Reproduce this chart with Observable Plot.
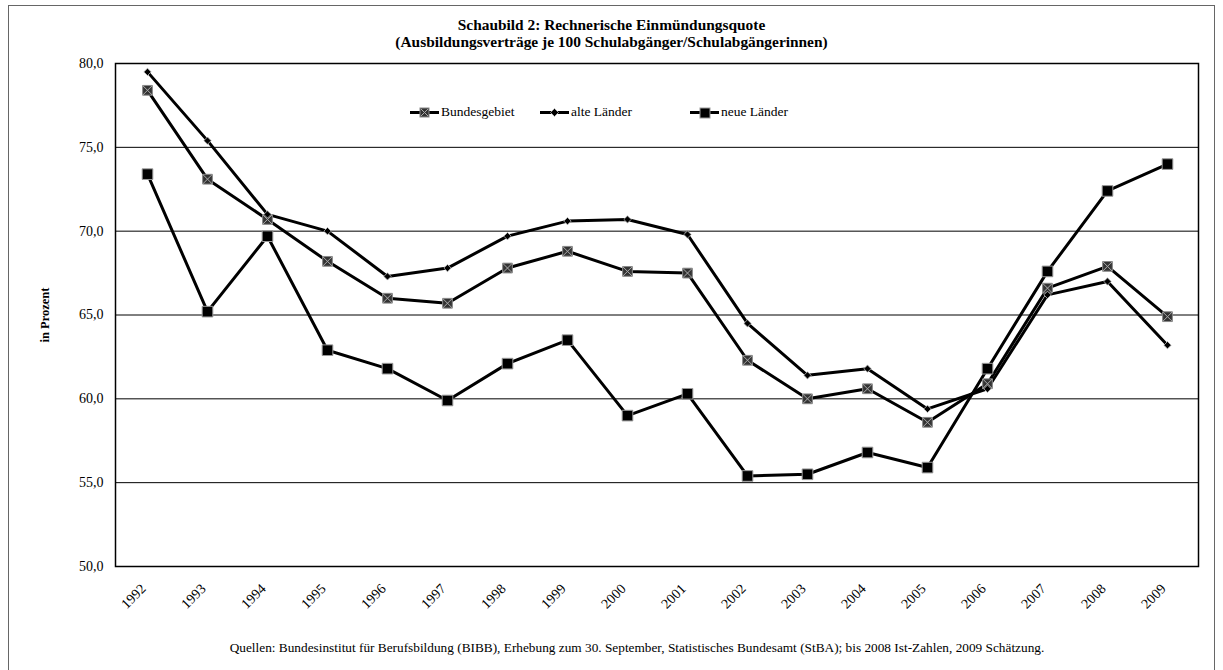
<!DOCTYPE html>
<html>
<head>
<meta charset="utf-8">
<script src="https://cdn.jsdelivr.net/npm/d3@7"></script>
<script src="https://cdn.jsdelivr.net/npm/@observablehq/plot@0.6"></script>
<style>
  html, body { margin: 0; padding: 0; background: #fff; }
  #wrap { position: relative; width: 1223px; height: 670px; overflow: hidden; font-family: "Liberation Serif", serif; color: #000; }
  #border { position: absolute; left: 8px; top: 5px; width: 1207px; height: 670px; border: 1px solid #666; box-sizing: border-box; }
  #chart { position: absolute; left: 0; top: 0; }
  #chart svg text { font-size: 14px; }
  .title { position: absolute; left: 0; width: 1223px; text-align: center; font-weight: bold; font-size: 15.4px; line-height: 17px; }
  #footer { position: absolute; left: 0; width: 1274px; text-align: center; font-size: 13.3px; top: 640px; }
  #legend { position: absolute; top: 104px; left: 0; width: 1223px; height: 18px; font-size: 13.5px; }
  .item { position: absolute; top: 0; display: flex; align-items: center; }
  .item svg { margin-right: 2px; }
</style>
</head>
<body>
<div id="wrap">
  <div id="border"></div>
  <div id="chart"></div>
  <div class="title" style="top:16px">Schaubild 2: Rechnerische Einmündungsquote</div>
  <div class="title" style="top:33px">(Ausbildungsverträge je 100 Schulabgänger/Schulabgängerinnen)</div>
  <div id="legend"></div>
  <div id="footer">Quellen: Bundesinstitut für Berufsbildung (BIBB), Erhebung zum 30. September, Statistisches Bundesamt (StBA); bis 2008 Ist-Zahlen, 2009 Schätzung.</div>
</div>
<script>
const years = [1992,1993,1994,1995,1996,1997,1998,1999,2000,2001,2002,2003,2004,2005,2006,2007,2008,2009];
const bundesgebiet = [78.4,73.1,70.7,68.2,66.0,65.7,67.8,68.8,67.6,67.5,62.3,60.0,60.6,58.6,60.9,66.6,67.9,64.9];
const alteLaender  = [79.5,75.4,71.0,70.0,67.3,67.8,69.7,70.6,70.7,69.8,64.5,61.4,61.8,59.4,60.6,66.2,67.0,63.2];
const neueLaender  = [73.4,65.2,69.7,62.9,61.8,59.9,62.1,63.5,59.0,60.3,55.4,55.5,56.8,55.9,61.8,67.6,72.4,74.0];
const seriesNames = ["Bundesgebiet", "alte Länder", "neue Länder"];
const yTicks = [50,55,60,65,70,75,80];
const gridLines = [55,60,65,70,75];

const toRows = (name, vals) => vals.map((v, i) => ({series: name, year: String(years[i]), value: v}));
const rowsB = toRows(seriesNames[0], bundesgebiet);
const rowsA = toRows(seriesNames[1], alteLaender);
const rowsN = toRows(seriesNames[2], neueLaender);
const fmt = d => d.toFixed(1).replace(".", ",");

const chart = Plot.plot({
  width: 1223,
  height: 670,
  marginLeft: 115,
  marginRight: 25,
  marginTop: 63,
  marginBottom: 104,
  style: {fontFamily: "Liberation Serif, serif", fontSize: "14px", background: "transparent", color: "#000"},
  x: {type: "point", domain: years.map(String), padding: 0.5},
  y: {domain: [50, 80]},
  marks: [
    Plot.ruleY(gridLines, {stroke: "#000", strokeWidth: 1}),
    Plot.frame({stroke: "#000", strokeWidth: 1.5}),
    Plot.axisY({ticks: yTicks, tickFormat: fmt, tickSize: 0, tickPadding: 12, label: null}),
    Plot.axisX({tickRotate: -45, tickSize: 0, tickPadding: 20, dx: -4, label: null}),
    Plot.line(rowsB, {x: "year", y: "value", stroke: "#000", strokeWidth: 3}),
    Plot.line(rowsA, {x: "year", y: "value", stroke: "#000", strokeWidth: 3}),
    Plot.line(rowsN, {x: "year", y: "value", stroke: "#000", strokeWidth: 3}),
    Plot.dot(rowsB, {x: "year", y: "value", symbol: "square", r: 5.5, fill: "#333", stroke: "#888", strokeWidth: 1}),
    Plot.dot(rowsB, {x: "year", y: "value", symbol: "times", r: 4.4, stroke: "#aaa", strokeWidth: 1}),
    Plot.dot(rowsA, {x: "year", y: "value", symbol: "diamond2", r: 3.3, fill: "#000", stroke: "#bbb", strokeWidth: 0.8}),
    Plot.dot(rowsN, {x: "year", y: "value", symbol: "square", r: 6, fill: "#000", stroke: "#999", strokeWidth: 1})
  ]
});
document.getElementById("chart").appendChild(chart);

// y-axis title
const svg = d3.select(chart);
svg.append("text")
  .attr("transform", "translate(46,315) rotate(-90)")
  .attr("text-anchor", "middle")
  .attr("dominant-baseline", "middle")
  .attr("font-family", "Liberation Serif, serif")
  .attr("font-weight", "bold")
  .style("font-size", "12.5px")
  .text("in Prozent");

// legend
const legendPos = [410, 540, 690];
const markerSvg = [
  '<rect x="10" y="2" width="9" height="9" fill="#333" stroke="#888"/><path d="M11 3 L18 10 M18 3 L11 10" stroke="#aaa"/>',
  '<path d="M14.5 2.5 L18.5 6.5 L14.5 10.5 L10.5 6.5 Z" fill="#000" stroke="#bbb" stroke-width="0.8"/>',
  '<rect x="10" y="2" width="10" height="10" fill="#000" stroke="#999"/>'
];
const legend = document.getElementById("legend");
seriesNames.forEach((name, i) => {
  const el = document.createElement("div");
  el.className = "item";
  el.style.left = legendPos[i] + "px";
  el.innerHTML = `<svg width="29" height="13"><line x1="0" x2="29" y1="6.5" y2="6.5" stroke="#000" stroke-width="3"/>${markerSvg[i]}</svg><span>${name}</span>`;
  legend.appendChild(el);
});
</script>
</body>
</html>
